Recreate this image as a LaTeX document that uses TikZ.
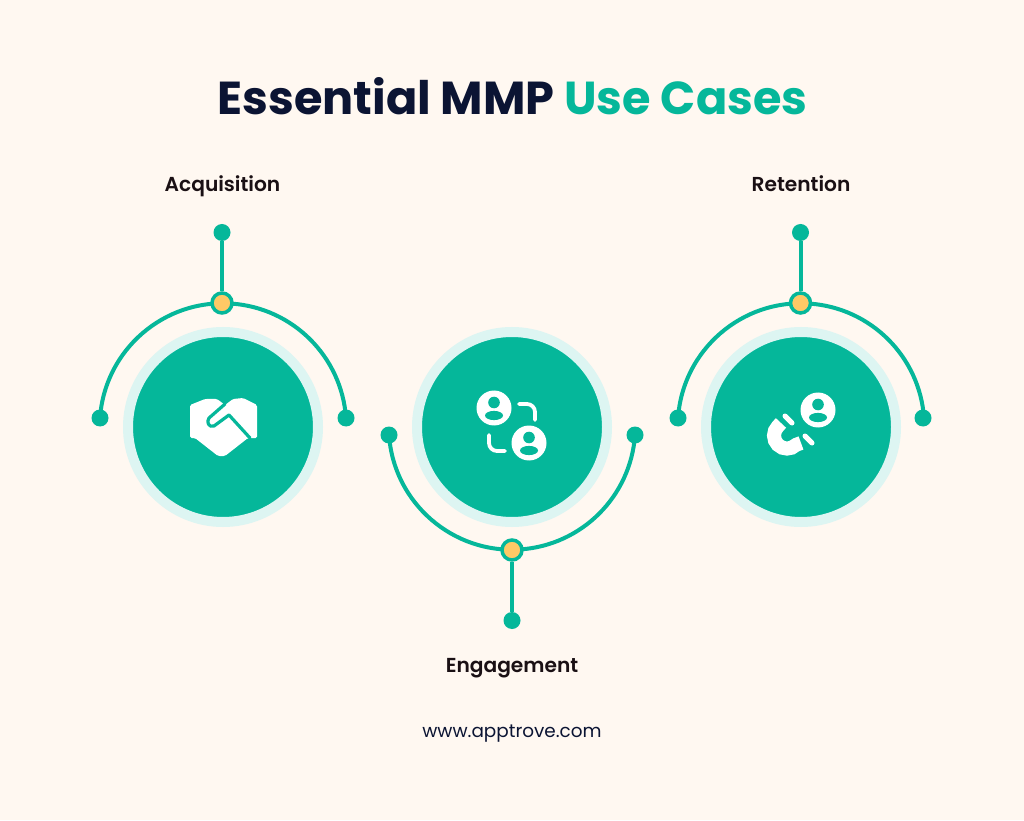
\documentclass[tikz,border=0pt]{standalone}
\usepackage{fontspec}
\setmainfont{Poppins}
\newfontfamily\labelfont{Poppins SemiBold}
\usetikzlibrary{positioning}
\definecolor{pagebg}{HTML}{FFF8F1}
\definecolor{mmpgreen}{HTML}{05B79A}
\definecolor{halo}{HTML}{DDF5F2}
\definecolor{hubfill}{HTML}{FFC966}
\definecolor{navy}{HTML}{0B1433}
\definecolor{labeltext}{HTML}{1A1014}

\begin{document}
\begin{tikzpicture}[x=1pt,y=1pt,
      disc node/.style={circle,fill=mmpgreen,draw=halo,line width=10pt,minimum size=190pt,inner sep=0},
      dot node/.style={circle,fill=mmpgreen,minimum size=17pt,inner sep=0},
      hub node/.style={circle,fill=hubfill,draw=mmpgreen,line width=3.5pt,minimum size=20pt,inner sep=0},
      case label/.style={font=\fontsize{20.2}{24}\labelfont,text=labeltext,anchor=base},
      link/.style={draw=mmpgreen,line width=4pt},
      cut/.style={draw=mmpgreen,line width=3.2pt,line cap=round,line join=round},
      bracket/.style={white,line width=3.8pt,line cap=round,rounded corners=8pt},
      person/.pic={
        \fill[white] (0,0) circle (17.5pt);
        \fill[mmpgreen] (0,5.5) circle (5.8pt);
        \fill[mmpgreen] (0,-7.5) ellipse (9pt and 4.6pt);
      }]

    \fill[pagebg] (0,0) rectangle (1024,820);

    \node[font=\fontsize{46.2}{56}\selectfont\bfseries,anchor=base] (title) at (512.5,705)
      {\textcolor{navy}{Essential MMP} \textcolor{mmpgreen}{Use Cases}};

    \node[disc node] (acq) at (223,393) {};
    \node[disc node] (eng) [right=89pt of acq] {};
    \node[disc node] (ret) [right=89pt of eng] {};

    % arcs first, so that hubs and dots sit on top
    \coordinate (acqstart) at (100,402);
    \coordinate (engstart) at (389,385);
    \coordinate (retstart) at (678,402);
    \draw[link] (acqstart) arc[start angle=176,end angle=4,radius=123.3pt];
    \draw[link] (engstart) arc[start angle=184,end angle=356,radius=123.3pt];
    \draw[link] (retstart) arc[start angle=176,end angle=4,radius=123.3pt];

    \node[dot node] (acql) at (acqstart) {};
    \node[dot node] (acqr) at (346,402) {};
    \node[hub node] (acqhub) at (222,517) {};
    \node[dot node] (acqtop) at (222,587.5) {};
    \draw[link] (acqhub) -- (acqtop);

    \node[dot node] (engl) at (engstart) {};
    \node[dot node] (engr) at (635,385) {};
    \node[hub node] (enghub) at (512,270) {};
    \node[dot node] (engbot) at (512,199.5) {};
    \draw[link] (enghub) -- (engbot);

    \node[dot node] (retl) at (retstart) {};
    \node[dot node] (retr) at (923,402) {};
    \node[hub node] (rethub) at (800.5,517) {};
    \node[dot node] (rettop) at (800.5,587.5) {};
    \draw[link] (rethub) -- (rettop);

    \node[case label] (acqlabel) at (222.5,628) {Acquisition};
    \node[case label] (retlabel) at (801,628) {Retention};
    \node[case label] (englabel) at (512,148) {Engagement};
    \node[font=\fontsize{18.4}{22}\selectfont,text=navy,anchor=base] (site) at (512,83) {www.apptrove.com};

    % handshake
    \fill[white,rounded corners=1.5pt] (190,415) -- (205,421) -- (217,421) -- (225,415) -- (233,421)
      -- (243,422) -- (257,415) -- (257,382) -- (248,382) -- (225,364) -- (218,364) -- (195,382)
      -- (190,382) -- cycle;
    \draw[cut] (225,416) -- (209,402) .. controls (206,398) and (209,392) .. (214,394) -- (229,405);
    \draw[cut] (229,405) -- (250,382);

    % people swapping
    \pic at (494,412) {person};
    \pic at (529,377) {person};
    \draw[bracket] (519,416) -| (535,400);
    \draw[bracket] (489,385) |- (505,369);

    % magnet
    \pic at (818,410) {person};
    \draw[white,line width=14pt] (781,397) -- (777.8,393.6) arc[start angle=135,end angle=315,radius=13pt] -- (801,377);
    \draw[white,line width=5pt,line cap=round] (785,404) -- (792,397);
    \draw[white,line width=5pt,line cap=round] (805,384) -- (812,377);
  \end{tikzpicture}
\end{document}
